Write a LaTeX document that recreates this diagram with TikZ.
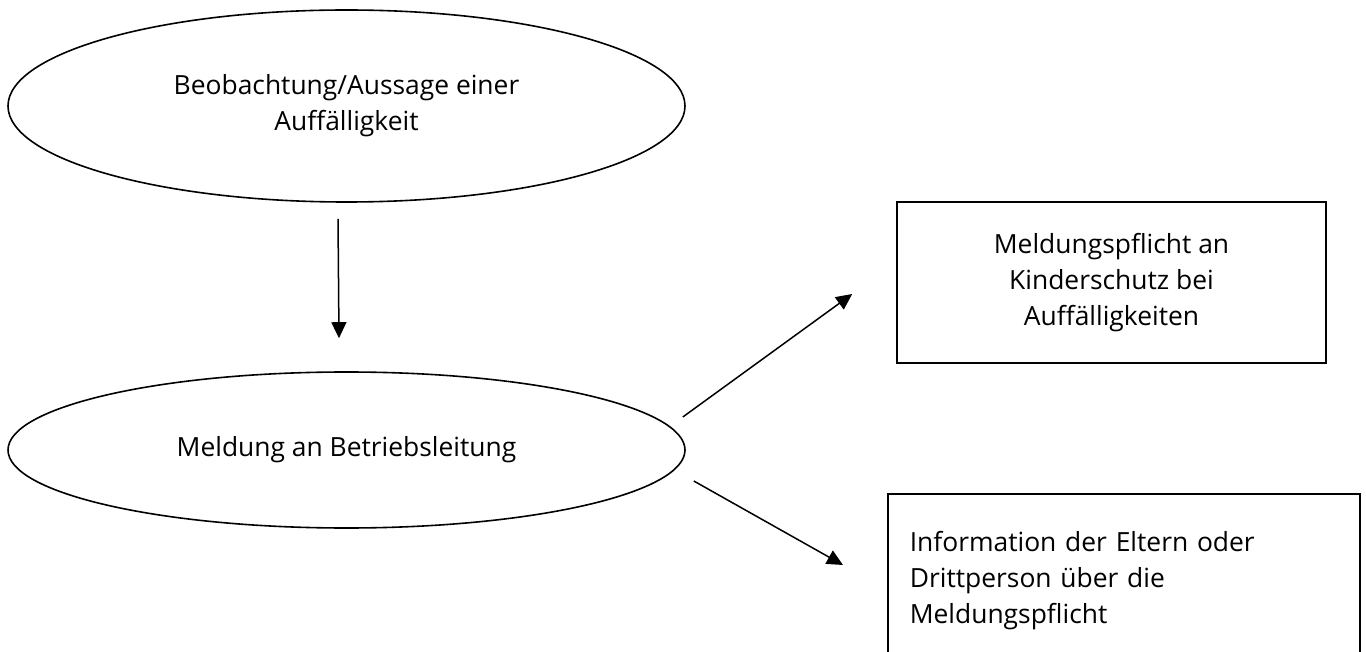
\documentclass[tikz,border=0pt]{standalone}
\usepackage{fontspec}
\setmainfont{Open Sans}
\usetikzlibrary{shapes.geometric,arrows.meta}
\begin{document}
\begin{tikzpicture}[x=1pt,y=-1pt,
  shapeline/.style={draw=black, line width=1.6pt},
  txt/.style={font=\fontsize{26.4}{36}\selectfont},
  oval/.style={shapeline, txt, ellipse, inner sep=0pt, align=center},
  boxnode/.style={shapeline, txt, rectangle, inner sep=0pt, align=center},
  arr/.style={line width=1.5pt, -{Triangle[width=15pt,length=16pt]}}]
\useasboundingbox (0,0) rectangle (1366,652);
\clip (0,0) rectangle (1366,652);
\fill[white] (0,0) rectangle (1366,652);
\node[oval, minimum width=677pt, minimum height=192pt] (e1) at (346.5,106) {Beobachtung/Aussage einer\\Auffälligkeit};
\node[oval, minimum width=677pt, minimum height=156pt] (e2) at (346.5,450) {Meldung an Betriebsleitung};
\node[boxnode, minimum width=429pt, minimum height=161pt] (b1) at (1111.5,282.5) {Meldungspflicht an\\Kinderschutz bei\\Auffälligkeiten};
\node[boxnode, anchor=north west, align=left, inner xsep=22pt, inner ysep=37pt, text width=428pt] (b2) at (887,493) {Information der Eltern oder\\Drittperson über die\\Meldungspflicht};
\draw[arr] ([xshift=-8.5pt,yshift=-16pt]e1.south) -- ([xshift=-7.5pt,yshift=33pt]e2.north);
\draw[arr] ([xshift=-3pt,yshift=33pt]e2.east) -- ([xshift=-44pt,yshift=-11.5pt]b1.west);
\draw[arr] ([xshift=8pt,yshift=-31pt]e2.east) -- ([xshift=-44pt,yshift=-72pt]b2.north west);
\end{tikzpicture}
\end{document}
